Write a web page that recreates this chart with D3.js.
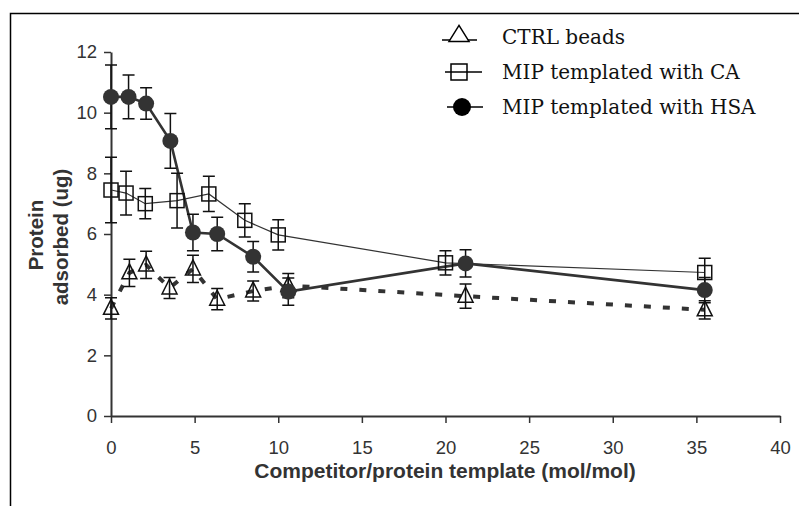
<!DOCTYPE html>
<html><head><meta charset="utf-8">
<script src="https://cdn.jsdelivr.net/npm/d3@7"></script>
<style>body{margin:0;background:#fff}svg{display:block}</style>
</head><body>
<svg id="c" width="799" height="506"></svg>
<script>
// ---- data ----
const ctrlX = [0, 1.1, 2.1, 3.5, 4.9, 6.35, 8.5, 10.6, 21.2, 35.5];
const ctrlY = [3.55, 4.72, 4.98, 4.22, 4.85, 3.85, 4.12, 4.3, 3.95, 3.5];
const ctrlE = [0.35, 0.45, 0.45, 0.35, 0.45, 0.35, 0.33, 0.4, 0.4, 0.3];
const caX = [0, 0.9, 2.05, 3.95, 5.85, 8.0, 10.0, 20.0, 35.5];
const caY = [7.45, 7.35, 7.0, 7.1, 7.32, 6.45, 5.97, 5.05, 4.73];
const caE = [1.08, 0.72, 0.5, 0.9, 0.58, 0.55, 0.5, 0.4, 0.47];
const hsaX = [0, 1.05, 2.1, 3.55, 4.9, 6.35, 8.5, 10.6, 21.2, 35.5];
const hsaY = [10.52, 10.52, 10.3, 9.07, 6.05, 6.0, 5.25, 4.1, 5.03, 4.15];
const hsaE = [1.05, 0.72, 0.52, 0.9, 0.6, 0.55, 0.5, 0.45, 0.45, 0.42];
const xTicks = [0, 5, 10, 15, 20, 25, 30, 35, 40];
const yTicks = [0, 2, 4, 6, 8, 10, 12];
const legendLabels = ["CTRL beads", "MIP templated with CA", "MIP templated with HSA"];
const xTitle = "Competitor/protein template (mol/mol)";
const yTitle = ["Protein", "adsorbed (ug)"];

const svg = d3.select("#c");
const ink = "#333";
const x = d3.scaleLinear().domain([0, 40]).range([111, 780]);
const y = d3.scaleLinear().domain([0, 12]).range([416, 52]);

// frame
svg.append("path").attr("d", "M10.5,506 V13.5 H799").attr("fill", "none").attr("stroke", "#000").attr("stroke-width", 1.5);

// axes
const font = "'Liberation Sans', Arial, sans-serif";
const gx = svg.append("g").attr("transform", "translate(0,416)")
  .call(d3.axisBottom(x).tickValues(xTicks).tickSize(7).tickPadding(18).tickSizeOuter(0));
const gy = svg.append("g").attr("transform", "translate(111,0)")
  .call(d3.axisLeft(y).tickValues(yTicks).tickSize(7).tickPadding(7).tickSizeOuter(0));
[gx, gy].forEach(g => {
  g.select(".domain").attr("stroke", ink).attr("stroke-width", 2);
  g.selectAll(".tick line").attr("stroke", ink).attr("stroke-width", 1.5);
  g.selectAll(".tick text").attr("fill", ink).style("font-family", font).style("font-size", "18.5px");
});

svg.append("text").attr("x", 445).attr("y", 478).attr("text-anchor", "middle")
  .style("font-family", font).style("font-size", "21px").style("font-weight", "bold").attr("fill", ink)
  .text(xTitle);
svg.append("text").attr("transform", "translate(43,235) rotate(-90)").attr("text-anchor", "middle")
  .style("font-family", font).style("font-size", "20.5px").style("font-weight", "bold").attr("fill", ink).text(yTitle[0]);
svg.append("text").attr("transform", "translate(68,237) rotate(-90)").attr("text-anchor", "middle")
  .style("font-family", font).style("font-size", "20.5px").style("font-weight", "bold").attr("fill", ink).text(yTitle[1]);

const zip = (xs, ys, es) => xs.map((v, i) => ({x: v, y: ys[i], e: es[i]}));
const ctrl = zip(ctrlX, ctrlY, ctrlE), ca = zip(caX, caY, caE), hsa = zip(hsaX, hsaY, hsaE);
const line = d3.line().x(d => x(d.x)).y(d => y(d.y));

svg.append("path").datum(ctrl).attr("d", line).attr("fill", "none").attr("stroke", ink)
  .attr("stroke-width", 4).attr("stroke-dasharray", "7,12");
svg.append("path").datum(ca).attr("d", line).attr("fill", "none").attr("stroke", ink).attr("stroke-width", 1.2);
svg.append("path").datum(hsa).attr("d", line).attr("fill", "none").attr("stroke", ink).attr("stroke-width", 2.6);

// error bars
function errBars(data) {
  const g = svg.append("g").attr("stroke", "#111").attr("stroke-width", 1.5).attr("fill", "none");
  data.forEach(d => {
    const cx = x(d.x), t = y(d.y + d.e), b = y(d.y - d.e);
    g.append("path").attr("d", `M${cx},${t}V${b}M${cx-6},${t}H${cx+6}M${cx-6},${b}H${cx+6}`);
  });
}
errBars(ctrl); errBars(ca); errBars(hsa);

const tri = (cx, cy, w, h) => `M${cx},${cy-h*0.6}L${cx+w/2},${cy+h*0.4}L${cx-w/2},${cy+h*0.4}Z`;
svg.append("g").selectAll("path").data(ctrl).join("path")
  .attr("d", d => tri(x(d.x), y(d.y), 15, 15)).attr("fill", "none").attr("stroke", "#111").attr("stroke-width", 1.5);
svg.append("g").selectAll("rect").data(ca).join("rect")
  .attr("x", d => x(d.x) - 7).attr("y", d => y(d.y) - 7).attr("width", 14).attr("height", 14)
  .attr("fill", "none").attr("stroke", "#111").attr("stroke-width", 1.5);
svg.append("g").selectAll("circle").data(hsa).join("circle")
  .attr("cx", d => x(d.x)).attr("cy", d => y(d.y)).attr("r", 8).attr("fill", ink);

// legend
const lg = svg.append("g");
const rows = [44, 79, 113.5];
legendLabels.forEach((t, i) => {
  lg.append("text").attr("x", 502).attr("y", rows[i]).style("font-family", "'DejaVu Serif', serif")
    .style("font-size", "20px").attr("fill", "#111").text(t);
});
const lc = [40, 72, 107];
lg.append("line").attr("x1", 442).attr("x2", 477).attr("y1", lc[0]).attr("y2", lc[0]).attr("stroke", "#000").attr("stroke-width", 1.5);
lg.append("path").attr("d", tri(459, 35, 20, 16)).attr("fill", "#fff").attr("stroke", "#000").attr("stroke-width", 1.5);
lg.append("line").attr("x1", 445).attr("x2", 482).attr("y1", lc[1]).attr("y2", lc[1]).attr("stroke", "#000").attr("stroke-width", 1.5);
lg.append("rect").attr("x", 451).attr("y", lc[1] - 8).attr("width", 16).attr("height", 16).attr("fill", "none").attr("stroke", "#000").attr("stroke-width", 1.5);
lg.append("line").attr("x1", 447).attr("x2", 483).attr("y1", lc[2]).attr("y2", lc[2]).attr("stroke", "#000").attr("stroke-width", 1.5);
lg.append("circle").attr("cx", 462).attr("cy", lc[2]).attr("r", 9).attr("fill", "#000");
</script>
</body></html>
